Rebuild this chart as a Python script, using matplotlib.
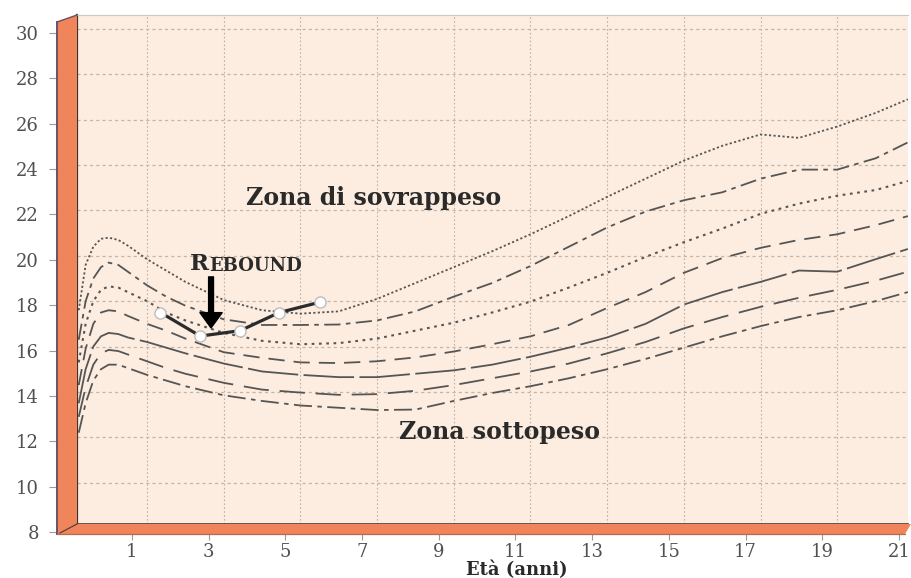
import matplotlib.pyplot as plt
from matplotlib.patches import Polygon
from matplotlib.lines import Line2D

# ages (anni) as read on the back plane of the chart
ages = [-0.78, -0.6, -0.4, -0.2, 0.0, 0.25, 0.5, 1, 1.5, 2, 3, 4, 5, 6, 7, 8, 9,
        10, 11, 12, 13, 14, 15, 16, 17, 18, 19, 20, 20.84]

# BMI percentile curves, top to bottom
p97 = [17.6, 19.6, 20.4, 20.75, 20.8, 20.7, 20.45, 19.85, 19.35, 18.85, 18.05, 17.6, 17.45,
       17.55, 18.1, 18.8, 19.5, 20.2, 20.95, 21.75, 22.6, 23.4, 24.2, 24.85, 25.35, 25.2,
       25.7, 26.3, 26.9]
p90 = [16.3, 18.0, 19.0, 19.5, 19.7, 19.6, 19.3, 18.7, 18.2, 17.8, 17.2, 16.95, 16.95,
       16.97, 17.15, 17.55, 18.2, 18.8, 19.55, 20.4, 21.25, 21.95, 22.45, 22.8, 23.4, 23.8,
       23.8, 24.3, 25.0]
p75 = [15.3, 17.0, 18.0, 18.5, 18.65, 18.6, 18.4, 18.0, 17.5, 17.15, 16.6, 16.25, 16.1,
       16.15, 16.35, 16.7, 17.05, 17.5, 17.98, 18.6, 19.25, 19.95, 20.6, 21.2, 21.85, 22.3,
       22.65, 22.9, 23.3]
p50 = [14.3, 15.9, 17.0, 17.5, 17.6, 17.55, 17.35, 17.0, 16.7, 16.35, 15.75, 15.5, 15.3,
       15.27, 15.35, 15.52, 15.78, 16.1, 16.45, 16.95, 17.7, 18.4, 19.25, 19.9, 20.35, 20.7,
       20.95, 21.35, 21.75]
p25 = [13.5, 15.0, 16.0, 16.45, 16.6, 16.55, 16.4, 16.2, 15.95, 15.7, 15.25, 14.9, 14.75,
       14.65, 14.65, 14.8, 14.95, 15.2, 15.55, 15.95, 16.4, 17.0, 17.85, 18.4, 18.85, 19.35,
       19.3, 19.85, 20.3]
p10 = [12.9, 14.2, 15.2, 15.7, 15.85, 15.8, 15.65, 15.35, 15.05, 14.8, 14.4, 14.1, 13.97,
       13.87, 13.9, 14.05, 14.3, 14.6, 14.9, 15.25, 15.7, 16.2, 16.8, 17.3, 17.75, 18.15,
       18.5, 18.9, 19.3]
p3 = [12.2, 13.5, 14.5, 15.0, 15.2, 15.2, 15.05, 14.75, 14.5, 14.25, 13.85, 13.6, 13.4,
      13.3, 13.2, 13.22, 13.6, 13.95, 14.25, 14.6, 15.0, 15.45, 15.95, 16.45, 16.9, 17.3,
      17.6, 18.0, 18.4]

# adiposity rebound points
rebound_age = [1.35, 2.39, 3.43, 4.45, 5.5]
rebound_bmi = [17.5, 16.46, 16.7, 17.5, 17.95]

xticks = [1, 3, 5, 7, 9, 11, 13, 15, 17, 19, 21]
yticks = [8, 10, 12, 14, 16, 18, 20, 22, 24, 26, 28, 30]

W, H = 912, 578
fig = plt.figure(figsize=(W / 100, H / 100), dpi=100)
fig.patch.set_facecolor('white')
plt.rcParams['font.family'] = ['DejaVu Serif']


def rect(left, top, right, bottom):
    return [left / W, 1 - bottom / H, (right - left) / W, (bottom - top) / H]


def to_fig(pts):
    return [(x / W, 1 - y / H) for x, y in pts]


px_year = 38.35
px_unit = 22.68

# back plane (curves and grid)
bl, bt, br, bb = 77, 15, 908, 524
gx1, gy30 = 147, 29   # pixel of age 1 / bmi 30 on back plane
ax = fig.add_axes(rect(bl, bt, br, bb))
ax.set_xlim(1 + (bl - gx1) / px_year, 1 + (br - gx1) / px_year)
ax.set_ylim(30 - (bb - gy30) / px_unit, 30 - (bt - gy30) / px_unit)
ax.set_facecolor('#fcede0')
ax.set_xticks([])
ax.set_yticks([])
for v in xticks[:-1]:
    ax.axvline(v, color='#c0b0a2', lw=0.8, ls=(0, (1.5, 2)), zorder=1)
for v in yticks:
    ax.axhline(v, color='#c6b5a5', lw=0.9, ls=(0, (2.5, 2.5)), zorder=1)
ax.spines['right'].set_visible(False)
ax.spines['top'].set_color('#cfc6bd')
ax.spines['left'].set_color('#3c3333')
ax.spines['left'].set_linewidth(1.6)
ax.spines['bottom'].set_color('#4a3c3c')
ax.spines['bottom'].set_linewidth(1.2)

curve_color = '#555555'
ax.plot(ages, p97, color=curve_color, lw=1.3, ls=(0, (1.2, 1.3)))
ax.plot(ages, p90, color=curve_color, lw=1.3, ls=(0, (9, 3, 2.5, 3)))
ax.plot(ages, p75, color=curve_color, lw=1.5, ls=(0, (1.3, 2.2)))
ax.plot(ages, p50, color=curve_color, lw=1.3, ls=(0, (9, 5)))
ax.plot(ages, p25, color=curve_color, lw=1.3, ls=(0, (28, 3)))
ax.plot(ages, p10, color=curve_color, lw=1.3, ls=(0, (14, 6)))
ax.plot(ages, p3, color=curve_color, lw=1.3, ls=(0, (10, 3, 2.5, 3)))

ax.plot(rebound_age, rebound_bmi, '-', color='#2b2b2b', lw=2.3, marker='o', ms=8,
        mfc='white', mec='#bdbdbd', mew=1, zorder=5)

ax.text(6.92, 22.55, 'Zona di sovrappeso', ha='center', va='center',
        fontsize=17, fontweight='bold', color='#2a2a2a')
ax.text(10.2, 12.25, 'Zona sottopeso', ha='center', va='center',
        fontsize=17, fontweight='bold', color='#2a2a2a')
r = ax.text(2.12, 19.37, 'R', ha='left', va='baseline', fontsize=16.5,
            fontweight='bold', color='#2a2a2a')
ax.annotate('EBOUND', xy=(1, 0), xycoords=r, ha='left', va='bottom',
            fontsize=13, fontweight='bold', color='#2a2a2a')
ax.annotate('', xy=(2.67, 16.82), xytext=(2.67, 19.07),
            arrowprops=dict(facecolor='black', edgecolor='black', width=3.5,
                            headwidth=16, headlength=11, shrink=0))

# front axis: ticks and labels only
fl, ft, fr, fb = 57, 18, 908, 532
axf = fig.add_axes(rect(fl, ft, fr, fb), zorder=-1)
axf.set_xlim(1 + (fl - 132) / px_year, 1 + (fr - 132) / px_year)
axf.set_ylim(8, 8 + (fb - ft) / px_unit)
axf.set_facecolor('none')
for s in axf.spines.values():
    s.set_visible(False)
axf.set_xticks(xticks)
axf.set_yticks(yticks)
axf.tick_params(direction='out', length=6, width=0.8, color='#9a9a9a',
                labelcolor='#505050', labelsize=13)
axf.tick_params(axis='y', pad=7)
axf.tick_params(axis='x', pad=2)
axf.set_xlabel('Età (anni)', fontsize=13, fontweight='bold', color='#2a2a2a', va='center')
axf.xaxis.set_label_coords((517 - fl) / (fr - fl), (fb - 570) / (fb - ft))

# orange wall and floor
orange = '#f0845a'
wall = [(57, 22), (bl, bt), (bl, bb), (br + 3, bb), (br - 3, fb + 2), (57, fb + 2)]
fig.patches.append(Polygon(to_fig(wall), closed=True, facecolor=orange, edgecolor='none',
                           transform=fig.transFigure, figure=fig, zorder=0))
for pts, c, w in [([(57, 22), (57, fb + 2)], '#6a5068', 1.4),
                  ([(57, 22), (bl, bt)], '#6a5068', 1.0),
                  ([(bl, bb), (60, fb + 1)], '#5a4040', 0.9),
                  ([(57, fb + 2), (br - 3, fb + 2)], '#b86a50', 0.9)]:
    xs = [p[0] / W for p in pts]
    ys = [1 - p[1] / H for p in pts]
    fig.lines.append(Line2D(xs, ys, color=c, lw=w, transform=fig.transFigure, figure=fig))

fig.savefig('out.png', dpi=100, facecolor='white')
